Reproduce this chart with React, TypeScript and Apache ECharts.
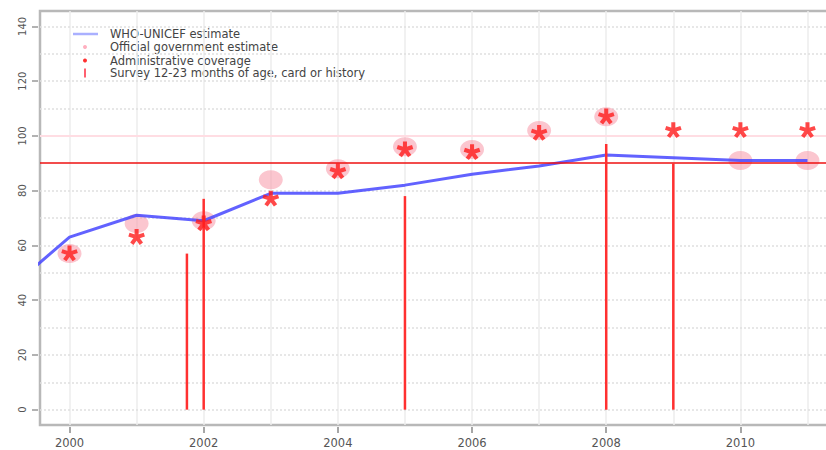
import React, { useEffect, useRef } from "react";
import * as echarts from "echarts";

// ---- data ----
const whoYears = [1999, 2000, 2001, 2002, 2003, 2004, 2005, 2006, 2007, 2008, 2009, 2010, 2011];
const whoUnicef = [42, 63, 71, 69, 79, 79, 82, 86, 89, 93, 92, 91, 91];
const officialYears = [2000, 2001, 2002, 2003, 2004, 2005, 2006, 2007, 2008, 2010, 2011];
const official = [57, 68, 69, 84, 88, 96, 95, 102, 107, 91, 91];
const adminYears = [2000, 2001, 2002, 2003, 2004, 2005, 2006, 2007, 2008, 2009, 2010, 2011];
const admin = [57, 63, 68, 77, 87, 95, 94, 101, 107, 102, 102, 102];
const surveyYears = [2001.75, 2002, 2005, 2008, 2009];
const survey = [57, 77, 78, 97, 90];
const xTickLabels = [2000, 2002, 2004, 2006, 2008, 2010];
const yTickLabels = [0, 20, 40, 60, 80, 100, 120, 140];
const gridYears = [2000, 2001, 2002, 2003, 2004, 2005, 2006, 2007, 2008, 2009, 2010, 2011];
const gridLevels = [0, 10, 20, 30, 40, 50, 60, 70, 80, 100, 110, 120, 130, 140];
const goalLevel = 90;
const referenceLevel = 100;
const legendLabels = [
  "WHO-UNICEF estimate",
  "Official government estimate",
  "Administrative coverage",
  "Survey 12-23 months of age, card or history",
];

// ---- asterisk symbol shape ----
function asteriskPath(): string {
  const hw = 0.25;
  let d = "M-1.05,-1.05M1.05,1.05";
  for (let k = 0; k < 5; k++) {
    const a = ((-90 + 72 * k) * Math.PI) / 180;
    const dx = Math.cos(a), dy = Math.sin(a);
    const px = -dy * hw, py = dx * hw;
    const f = (n: number) => n.toFixed(4);
    d += `M${f(px)},${f(py)}L${f(dx + px)},${f(dy + py)}L${f(dx - px)},${f(dy - py)}L${f(-px)},${f(-py)}Z`;
  }
  return "path://" + d;
}
const STAR = asteriskPath();

const FONT = "DejaVu Sans";

export default function App() {
  const ref = useRef<HTMLDivElement>(null);
  useEffect(() => {
    if (!ref.current) return;
    const chart = echarts.init(ref.current, null, { renderer: "svg" });
    const legendRows = [34, 47, 60.5, 73];
    chart.setOption({
      animation: false,
      backgroundColor: "#ffffff",
      grid: {
        left: 40,
        top: 11,
        bottom: 25,
        width: 797,
        outerBoundsMode: "none",
        containLabel: false,
        show: true,
        borderColor: "#b8b8b8",
        borderWidth: 2.5,
        backgroundColor: "transparent",
      },
      xAxis: {
        type: "value",
        min: 1999.56,
        max: 2011.44,
        offset: 2,
        axisLine: { show: false, onZero: false },
        splitLine: { show: false },
        axisTick: {
          show: true,
          length: 6,
          customValues: xTickLabels,
          lineStyle: { color: "#888", width: 1.5 },
        },
        axisLabel: {
          customValues: xTickLabels,
          margin: 10,
          color: "#555",
          fontFamily: FONT,
          fontSize: 11.5,
          formatter: (v: number) => String(v),
        },
      },
      yAxis: {
        type: "value",
        min: -5.6,
        max: 145.6,
        offset: 2,
        axisLine: { show: false, onZero: false },
        splitLine: { show: false },
        axisTick: {
          show: true,
          length: 6,
          customValues: yTickLabels,
          lineStyle: { color: "#999", width: 1.5 },
        },
        axisLabel: {
          customValues: yTickLabels,
          rotate: 90,
          margin: 11,
          color: "#555",
          fontFamily: FONT,
          fontSize: 10,
          formatter: (v: number) => String(v),
        },
      },
      graphic: [
        {
          type: "line",
          shape: { x1: 73, y1: legendRows[0], x2: 98, y2: legendRows[0] },
          style: { stroke: "#aab0ff", lineWidth: 2.5 },
        },
        {
          type: "circle",
          shape: { cx: 85, cy: legendRows[1], r: 2 },
          style: { fill: "#ffb0c0" },
        },
        {
          type: "circle",
          shape: { cx: 85, cy: legendRows[2], r: 2 },
          style: { fill: "#ff3030" },
        },
        {
          type: "line",
          shape: { x1: 85, y1: legendRows[3] - 4.5, x2: 85, y2: legendRows[3] + 4.5 },
          style: { stroke: "#ff6070", lineWidth: 2 },
        },
        ...legendLabels.map((t, i) => ({
          type: "text",
          x: 110,
          y: legendRows[i],
          style: {
            text: t,
            fill: "#444",
            font: `11.5px "${FONT}"`,
            textVerticalAlign: "middle",
            textAlign: "left",
          },
        })),
      ],
      series: [
        {
          name: "grid",
          type: "line",
          data: [],
          silent: true,
          z: 0,
          markLine: {
            silent: true,
            z: 0,
            symbol: "none",
            label: { show: false },
            animation: false,
            data: [
              ...gridYears.map((y) => ({
                xAxis: y,
                lineStyle: { color: "#ececec", width: 1.5, type: "solid" },
              })),
              ...gridLevels.map((v) => ({
                yAxis: v,
                lineStyle: { color: "#e0e0e0", width: 1.5, type: [2, 2] },
              })),
              {
                yAxis: referenceLevel,
                lineStyle: { color: "#ffdde3", width: 2, type: "solid" },
              },
            ],
          },
        },
        {
          name: legendLabels[1],
          type: "scatter",
          z: 2,
          symbol: "circle",
          symbolSize: [24, 19],
          itemStyle: { color: "rgba(248,160,175,0.75)" },
          data: officialYears.map((y, i) => [y, official[i]]),
        },
        {
          name: legendLabels[0],
          type: "line",
          z: 3,
          symbol: "none",
          lineStyle: { color: "rgba(70,70,255,0.85)", width: 3 },
          data: whoYears.map((y, i) => [y, whoUnicef[i]]),
          markLine: {
            silent: true,
            z: 4,
            symbol: "none",
            label: { show: false },
            data: [{ yAxis: goalLevel, lineStyle: { color: "#ee1111", width: 1.5, type: "solid" } }],
          },
        },
        {
          name: legendLabels[3],
          type: "custom",
          z: 5,
          data: surveyYears.map((y, i) => [y, survey[i]]),
          renderItem: (params: any, api: any) => {
            const top = api.coord([api.value(0), api.value(1)]);
            const base = api.coord([api.value(0), 0]);
            return {
              type: "line",
              shape: { x1: top[0], y1: top[1], x2: base[0], y2: base[1] },
              style: { stroke: "#ff3030", lineWidth: 2.5 },
            };
          },
        },
        {
          name: legendLabels[2],
          type: "scatter",
          z: 6,
          symbol: STAR,
          symbolSize: 17,
          itemStyle: { color: "#ff1a1a" },
          data: adminYears.map((y, i) => [y, admin[i]]),
        },
      ],
    });
    return () => chart.dispose();
  }, []);
  return (
    <div
      ref={ref}
      style={{ position: "absolute", left: 0, top: 0, width: 826, height: 450 }}
    />
  );
}
